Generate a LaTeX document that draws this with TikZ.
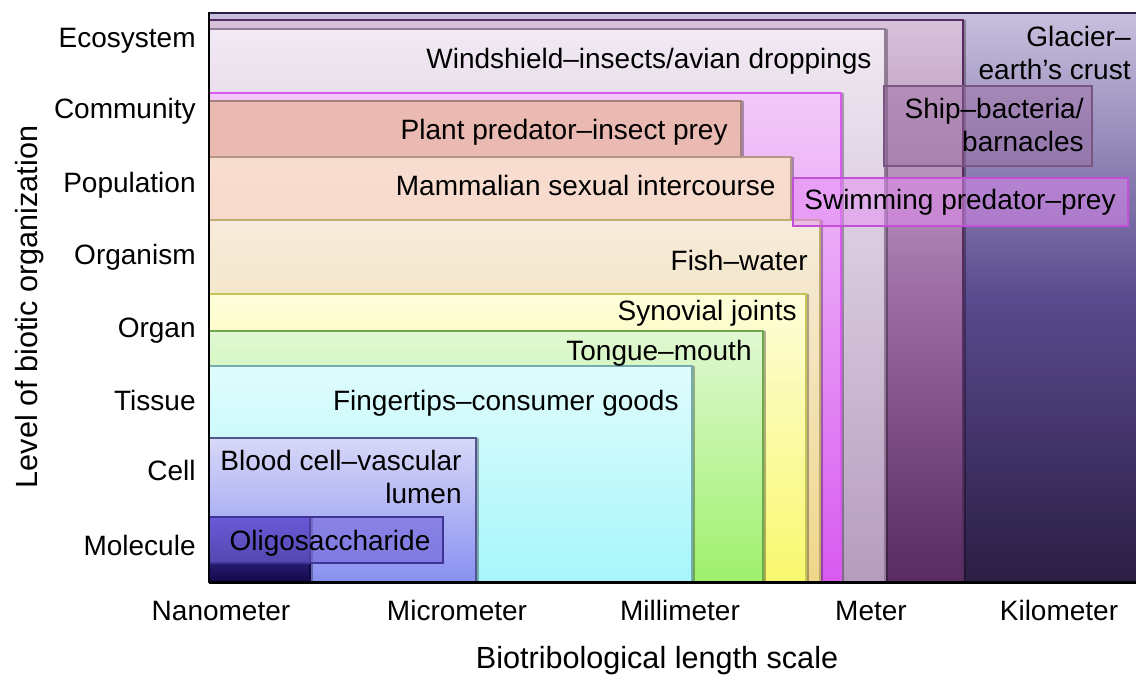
\documentclass[tikz,border=0pt]{standalone}
\usepackage{fontspec}
\setmainfont{Liberation Sans}
\usetikzlibrary{shadows}

\definecolor{glacTop}{HTML}{C8C0DE}
\definecolor{glacMid}{HTML}{5A4A8E}
\definecolor{glacBot}{HTML}{2A1E44}
\definecolor{shipTop}{HTML}{D8C2DA}
\definecolor{shipMid}{HTML}{9A6AA2}
\definecolor{shipBot}{HTML}{582C60}
\definecolor{windTop}{HTML}{F1E9F3}
\definecolor{windBot}{HTML}{B59CBE}
\definecolor{swimTop}{HTML}{F2CAF9}
\definecolor{swimBot}{HTML}{D85AF0}
\definecolor{plantCol}{HTML}{EAB9B1}
\definecolor{mammTop}{HTML}{F7DDD0}
\definecolor{mammBot}{HTML}{F0C8B4}
\definecolor{fishTop}{HTML}{F6EBDC}
\definecolor{fishBot}{HTML}{F0D68A}
\definecolor{synTop}{HTML}{FDFDDA}
\definecolor{synBot}{HTML}{F8F86E}
\definecolor{tongTop}{HTML}{E0F8D2}
\definecolor{tongBot}{HTML}{9EF06C}
\definecolor{fingTop}{HTML}{E0FCFC}
\definecolor{fingBot}{HTML}{A6F6FA}
\definecolor{bloodTop}{HTML}{D8D8F8}
\definecolor{bloodBot}{HTML}{8890F0}
\definecolor{oligoTop}{HTML}{5A4AD4}
\definecolor{oligoBot}{HTML}{120848}

\begin{document}
\begin{tikzpicture}[
  x=0.5pt, y=-0.5pt,
  font=\fontsize{14}{16.5}\selectfont,
  lvl/.style={line width=0.6pt,
    drop shadow={shadow xshift=1.6pt, shadow yshift=0pt, opacity=0.3, fill=black}},
  tagbox/.style={line width=0.7pt},
  tag/.style={inner sep=0pt, align=right, anchor=base east},
  level/.style={inner sep=0pt, anchor=base east},
  xlbl/.style={inner sep=0pt, anchor=base},
  axtitle/.style={inner sep=0pt, anchor=base, font=\fontsize{15.3}{18}\selectfont}
]
\useasboundingbox[fill=white] (0,0) rectangle (1136,675);
\coordinate (o) at (209,582);
\coordinate (ytop) at (209,12);
\coordinate (xend) at (1136,582);

% nested length-scale boxes, largest first
\draw[line width=0.6pt, draw=glacBot, top color=glacTop, bottom color=glacBot, middle color=glacMid] (o) rectangle (1140,13);
\draw[lvl, draw=shipBot, top color=shipTop, bottom color=shipBot, middle color=shipMid] (o) rectangle (963,20);
\draw[lvl, draw=windBot!80!black, top color=windTop, bottom color=windBot] (o) rectangle (885,29);
\draw[lvl, draw=swimBot, top color=swimTop, bottom color=swimBot] (o) rectangle (841,93);
\draw[lvl, draw=plantCol!70!black, fill=plantCol] (o) rectangle (741,101);
\draw[lvl, draw=mammBot!75!black, top color=mammTop, bottom color=mammBot] (o) rectangle (791,157);
\draw[lvl, draw=fishBot!80!black, top color=fishTop, bottom color=fishBot] (o) rectangle (820,220);
\draw[lvl, draw=synBot!80!black, top color=synTop, bottom color=synBot] (o) rectangle (806,294);
\draw[lvl, draw=tongBot!70!black, top color=tongTop, bottom color=tongBot] (o) rectangle (763,331);
\draw[lvl, draw=fingBot!70!black, top color=fingTop, bottom color=fingBot] (o) rectangle (692,366);
\draw[lvl, draw=bloodBot!60!black, top color=bloodTop, bottom color=bloodBot] (o) rectangle (476,438);
\draw[lvl, draw=oligoBot, top color=oligoTop, bottom color=oligoBot] (o) rectangle (310,517);

% label boxes
\draw[tagbox, draw=shipMid!80!black, fill=shipMid, fill opacity=0.45] (884,86) rectangle (1092,166);
\draw[tagbox, draw=swimBot!90!black, fill=swimBot!70!white, fill opacity=0.5] (793,178) rectangle (1128,226);
\draw[tagbox, draw=oligoTop!70!black, fill=oligoTop!85!white, fill opacity=0.6] (209,517) rectangle (443,563);

% box texts (two-line ones sit on their last baseline)
\node[tag] (glacier) at (1131,79) {Glacier--\\earth’s crust};
\node[tag] (ship) at (1084,151) {Ship--bacteria/\\barnacles};
\node[tag] (wind) at (872,68) {Windshield--insects/avian droppings};
\node[tag] (plant) at (728,139) {Plant predator--insect prey};
\node[tag] (mamm) at (776,195) {Mammalian sexual intercourse};
\node[xlbl] (swim) at (960,209) {Swimming predator--prey};
\node[tag] (fish) at (808,270) {Fish--water};
\node[tag] (syn) at (797,320) {Synovial joints};
\node[tag] (tongue) at (752,360) {Tongue--mouth};
\node[tag] (finger) at (679,410) {Fingertips--consumer goods};
\node[tag] (blood) at (462,503) {Blood cell--vascular\\lumen};
\node[xlbl] (oligo) at (330,550) {Oligosaccharide};

% axes
\draw[line width=1.1pt] (ytop) -- (o);
\draw[line width=1.5pt] (o) -- (xend);

% level of organization
\node[level] (eco) at (196,47) {Ecosystem};
\node[level] (comm) at (196,118) {Community};
\node[level] (pop) at (196,192) {Population};
\node[level] (orgm) at (196,264) {Organism};
\node[level] (organ) at (196,337) {Organ};
\node[level] (tissue) at (196,410) {Tissue};
\node[level] (cell) at (196,480) {Cell};
\node[level] (mol) at (196,555) {Molecule};

% length scale
\node[xlbl] (nano) at (221,620) {Nanometer};
\node[xlbl] (micro) at (457,620) {Micrometer};
\node[xlbl] (milli) at (680,620) {Millimeter};
\node[xlbl] (meter) at (871,620) {Meter};
\node[xlbl] (kilo) at (1059,620) {Kilometer};

\node[axtitle] (xtitle) at (657,668) {Biotribological length scale};
\node[axtitle, rotate=90] (ytitle) at (37,307) {Level of biotic organization};
\end{tikzpicture}
\end{document}
